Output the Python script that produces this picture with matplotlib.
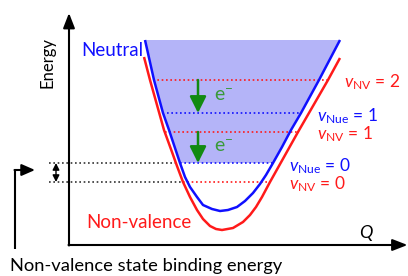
import numpy as np
import matplotlib
matplotlib.use('Agg')
import matplotlib.pyplot as plt

plt.rcParams['font.family'] = ['Lato', 'DejaVu Sans']
plt.rcParams['mathtext.fontset'] = 'custom'
plt.rcParams['mathtext.rm'] = 'Lato'
plt.rcParams['mathtext.it'] = 'Lato:italic'

# potential curves (Q, Energy)
neutral_q = [7.6, 8.5, 9.4, 10.0, 10.6, 11.1, 11.6, 12.1, 12.8, 13.4, 14.3, 15.1,
             15.9, 16.8, 17.6, 18.4, 19.1, 19.7, 20.4, 21.3, 22.2, 23.2, 25.0, 27.1]
neutral_e = [20.5, 16.5, 13.2, 11.5, 9.7, 8.2, 6.8, 5.8, 4.8, 4.0, 3.6, 3.4,
             3.5, 3.8, 4.4, 5.2, 6.1, 7.0, 8.2, 9.8, 11.5, 13.2, 16.5, 20.5]
nonval_q = [7.5, 8.1, 8.8, 9.5, 10.3, 10.8, 11.4, 12.1, 12.8, 13.4, 14.1, 14.7, 15.3,
            16.4, 17.4, 18.1, 18.7, 19.3, 20.1, 21.5, 22.9, 24.4, 25.9, 27.1]
nonval_e = [18.8, 16.5, 14.0, 11.5, 9.3, 7.9, 6.3, 4.8, 3.5, 2.6, 1.9, 1.6, 1.5,
            1.7, 2.3, 3.0, 3.8, 4.8, 6.3, 8.8, 11.3, 13.9, 16.5, 18.7]

# vibrational levels: energy, left Q, right Q
nv_levels = [6.3, 11.3, 16.5]
nv_left = [11.4, 9.6, 8.4]
nv_right = [20.1, 23.0, 26.0]
nue_levels = [8.2, 13.2]
nue_left = [11.1, 9.8]
nue_right = [20.4, 23.3]
nv_labels = [r'$v_{\mathrm{NV}}$ = 0', r'$v_{\mathrm{NV}}$ = 1', r'$v_{\mathrm{NV}}$ = 2']
nue_labels = [r'$v_{\mathrm{Nue}}$ = 0', r'$v_{\mathrm{Nue}}$ = 1']
nv_label_q = [22.0, 24.8, 27.5]
nue_label_q = [22.0, 24.8]

blue = '#1010ff'
red = '#ff1a1a'
green_arrow = '#128a12'
green_text = '#3a9a3a'

fig = plt.figure(figsize=(4.08, 2.76), dpi=100)
ax = fig.add_axes([0, 0, 1, 1])
ax.set_xlim(-6.9, 33.9)
ax.set_ylim(-3.1, 24.5)
ax.axis('off')

nq = np.array(neutral_q)
ne = np.array(neutral_e)
mask = ne >= nue_levels[0]
ax.fill(nq[mask], ne[mask], color='#b4b4f8', lw=0, zorder=1)

dot = (0, (1, 1.6))
for e, l, r in zip(nv_levels, nv_left, nv_right):
    ax.plot([l, r], [e, e], color=red, lw=1.2, ls=dot, zorder=2)
for e, l, r in zip(nue_levels, nue_left, nue_right):
    ax.plot([l, r], [e, e], color=blue, lw=1.2, ls=dot, zorder=2)
# binding energy reference lines
ax.plot([-2.0, nue_left[0]], [nue_levels[0]] * 2, color='#333333', lw=1.2, ls=dot, zorder=2)
ax.plot([-2.0, nv_left[0]], [nv_levels[0]] * 2, color='#333333', lw=1.2, ls=dot, zorder=2)

ax.plot(nonval_q, nonval_e, color=red, lw=1.8, zorder=3, solid_capstyle='butt')
ax.plot(neutral_q, neutral_e, color=blue, lw=1.8, zorder=3, solid_capstyle='butt')

# axes arrows
ax.annotate('', xy=(0, 23.2), xytext=(0, -0.05),
            arrowprops=dict(arrowstyle='-|>,head_length=0.9,head_width=0.35', color='black',
                            lw=1.5, shrinkA=0, shrinkB=0))
ax.annotate('', xy=(33.85, 0), xytext=(-0.05, 0),
            arrowprops=dict(arrowstyle='-|>,head_length=0.9,head_width=0.35', color='black',
                            lw=1.5, shrinkA=0, shrinkB=0))

# electron detachment arrows
for top, bot in [(nv_levels[2], nue_levels[1]), (nv_levels[1], nue_levels[0])]:
    ax.annotate('', xy=(12.9, bot), xytext=(12.9, top),
                arrowprops=dict(arrowstyle='-|>,head_length=1.0,head_width=0.5',
                                color=green_arrow, lw=1.8, shrinkA=0, shrinkB=0), zorder=4)
ax.text(15.5, 15.0, r'e$^{-}$', color=green_text, fontsize=14, ha='center', va='center')
ax.text(15.5, 9.9, r'e$^{-}$', color=green_text, fontsize=14, ha='center', va='center')

# binding energy double arrow
ax.annotate('', xy=(-1.3, nv_levels[0]), xytext=(-1.3, nue_levels[0]),
            arrowprops=dict(arrowstyle='<|-|>,head_length=0.4,head_width=0.2', color='black',
                            lw=1.0, shrinkA=0, shrinkB=0))

# bent pointer arrow
ax.plot([-5.4, -5.4], [-0.35, 7.5], color='black', lw=1.5, solid_capstyle='butt')
ax.annotate('', xy=(-3.4, 7.5), xytext=(-5.45, 7.5),
            arrowprops=dict(arrowstyle='-|>,head_length=0.8,head_width=0.35', color='black',
                            lw=1.5, shrinkA=0, shrinkB=0))

# labels
ax.text(-2.2, 18.2, 'Energy', rotation=90, fontsize=12, ha='center', va='center')
ax.text(7.4, 19.5, 'Neutral', color=blue, fontsize=13.5, ha='right', va='center')
ax.text(1.7, 2.2, 'Non-valence', color=red, fontsize=13.5, ha='left', va='center')
ax.text(29.7, 1.2, 'Q', fontsize=13, style='italic', ha='center', va='center')
ax.text(-5.9, -2.1, 'Non-valence state binding energy', fontsize=13.2, ha='left', va='center')

for e, q, s in zip(nv_levels, nv_label_q, nv_labels):
    ax.text(q, e - 0.2, s, color=red, fontsize=12.5, ha='left', va='center')
for e, q, s in zip(nue_levels, nue_label_q, nue_labels):
    ax.text(q, e - 0.3, s, color=blue, fontsize=12.5, ha='left', va='center')

fig.savefig('out.png', dpi=100)
